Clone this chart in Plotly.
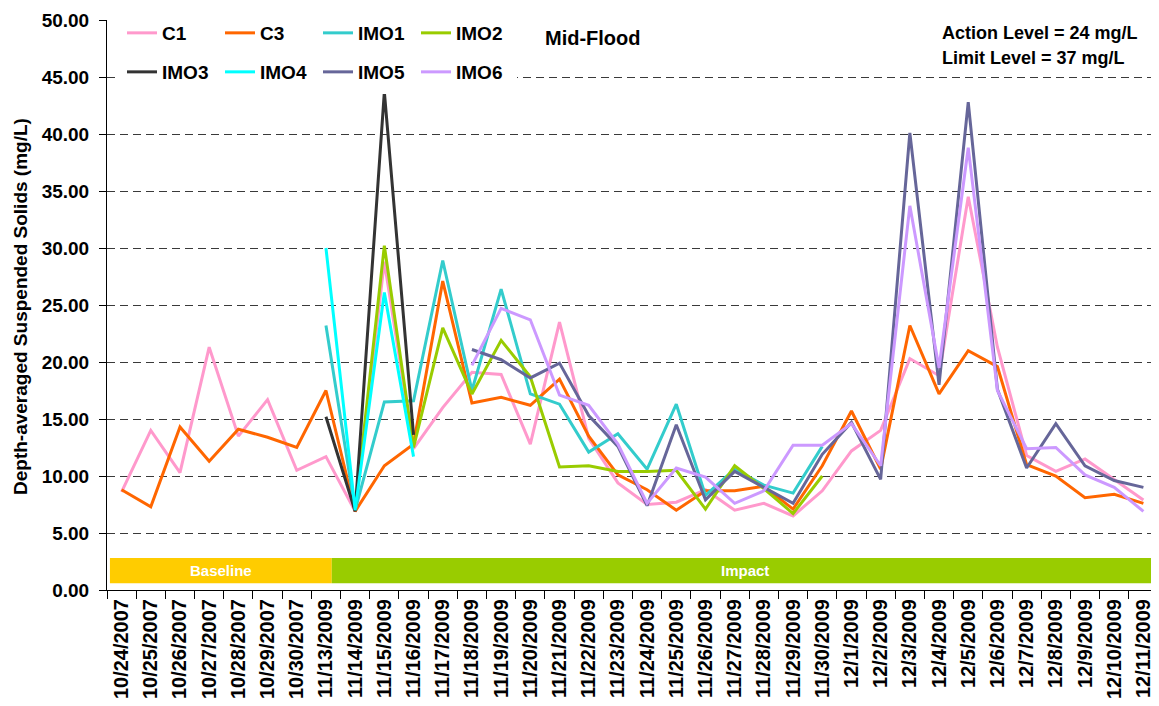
import plotly.graph_objects as go

dates = ["10/24/2007", "10/25/2007", "10/26/2007", "10/27/2007", "10/28/2007", "10/29/2007",
         "10/30/2007", "11/13/2009", "11/14/2009", "11/15/2009", "11/16/2009", "11/17/2009",
         "11/18/2009", "11/19/2009", "11/20/2009", "11/21/2009", "11/22/2009", "11/23/2009",
         "11/24/2009", "11/25/2009", "11/26/2009", "11/27/2009", "11/28/2009", "11/29/2009",
         "11/30/2009", "12/1/2009", "12/2/2009", "12/3/2009", "12/4/2009", "12/5/2009",
         "12/6/2009", "12/7/2009", "12/8/2009", "12/9/2009", "12/10/2009", "12/11/2009"]

N = None
c1 = [8.6, 14.0, 10.3, 21.3, 13.5, 16.7, 10.5, 11.7, 6.9, 28.8, 12.4, 16.0, 19.1, 18.9, 12.8,
      23.5, 13.3, 9.4, 7.5, 7.7, 8.8, 7.0, 7.6, 6.5, 8.7, 12.2, 14.0, 20.3, 18.8, 34.5, 21.3,
      11.8, 10.4, 11.5, 9.7, 7.9]
c3 = [8.8, 7.3, 14.3, 11.3, 14.1, 13.4, 12.5, 17.5, 6.9, 10.9, 12.8, 27.1, 16.4, 16.9, 16.2,
      18.5, 13.5, 10.1, 8.8, 7.0, 8.7, 8.7, 9.1, 7.1, 10.9, 15.7, 10.6, 23.2, 17.2, 21.0, 19.6,
      11.0, 10.0, 8.1, 8.4, 7.6]
imo1 = [N, N, N, N, N, N, N, 23.2, 7.0, 16.5, 16.6, 28.9, 17.5, 26.4, 17.2, 16.3, 12.1, 13.7,
        10.6, 16.3, 8.3, 10.6, 9.2, 8.5, 12.6, N, N, N, N, N, N, N, N, N, N, N]
imo2 = [N, N, N, N, N, N, N, N, 7.0, 30.2, 12.5, 23.0, 17.2, 21.9, 18.7, 10.8, 10.9, 10.4,
        10.4, 10.5, 7.1, 10.9, 8.9, 6.7, 10.0, N, N, N, N, N, N, N, N, N, N, N]
imo3 = [N, N, N, N, N, N, N, 15.2, 6.9, 43.7, 13.6, N, N, N, N, N, N, N, N, N, N, N, N, N,
        N, N, N, N, N, N, N, N, N, N, N, N]
imo4 = [N, N, N, N, N, N, N, 30.0, 7.0, 26.1, 11.7, N, N, N, N, N, N, N, N, N, N, N, N, N,
        N, N, N, N, N, N, N, N, N, N, N, N]
imo5 = [N, N, N, N, N, N, N, N, N, N, N, N, 21.1, 20.2, 18.6, 19.9, 15.3, 12.6, 7.4, 14.5,
        7.9, 10.4, 9.0, 7.6, 11.9, 14.7, 9.7, 40.1, 18.0, 42.8, 17.6, 10.7, 14.6, 10.9, 9.6, 9.0]
imo6 = [N, N, N, N, N, N, N, N, N, N, N, N, 19.7, 24.7, 23.7, 17.1, 16.2, 12.8, 7.6, 10.7,
        9.9, 7.6, 8.7, 12.7, 12.7, 14.6, 10.9, 33.7, 19.5, 38.8, 17.5, 12.4, 12.5, 10.1, 9.0, 6.9]

series_names = ["C1", "C3", "IMO1", "IMO2", "IMO3", "IMO4", "IMO5", "IMO6"]
series_values = [c1, c3, imo1, imo2, imo3, imo4, imo5, imo6]
series_colors = ["#FF99CC", "#FF6600", "#33CCCC", "#99CC00", "#333333", "#00FFFF", "#666699", "#CC99FF"]

phase_labels = ["Baseline", "Impact"]
phase_colors = ["#FFCC00", "#99CC00"]
phase_edges = [-0.4, 7.2, 35.5]
phase_band = [0.6, 2.8]

FONT = "Liberation Sans, Arial, sans-serif"

# page body has an 8px default margin; figure sized/offset to compensate
OFF = 8
W, H = 1159 - OFF, 706 - OFF
L, R, T, B = 107 - OFF, 1, 20 - OFF, 116
PW = W - L - R
PH = H - T - B


def px_x(x):  # reference pixel -> paper x
    return (x - 107) / PW


def px_y(y):  # reference pixel -> paper y
    return 1 - (y - 20) / PH


fig = go.Figure()
for i, (name, vals, col) in enumerate(zip(series_names, series_values, series_colors)):
    fig.add_trace(go.Scatter(
        x=dates, y=vals, name=name, mode="lines",
        line=dict(color=col, width=3),
        connectgaps=False,
        legend="legend" if i < 4 else "legend2",
    ))

shapes = []
annotations = []
for k, (lab, col) in enumerate(zip(phase_labels, phase_colors)):
    shapes.append(dict(type="rect", xref="x", yref="y",
                       x0=phase_edges[k], x1=phase_edges[k + 1],
                       y0=phase_band[0], y1=phase_band[1],
                       fillcolor=col, line=dict(width=0), layer="below"))
    annotations.append(dict(x=(phase_edges[k] + phase_edges[k + 1]) / 2, y=sum(phase_band) / 2,
                            xref="x", yref="y", text="<b>%s</b>" % lab, showarrow=False,
                            font=dict(family=FONT, size=15, color="white")))

annotations += [
    dict(x=px_x(543), y=px_y(38), xref="paper", yref="paper",
         xanchor="left", yanchor="middle", text="<b>Mid-Flood</b>", showarrow=False,
         font=dict(family=FONT, size=20, color="black")),
    dict(x=px_x(940), y=px_y(33), xref="paper", yref="paper",
         xanchor="left", yanchor="middle", text="<b>Action Level = 24 mg/L</b>", showarrow=False,
         font=dict(family=FONT, size=18, color="black")),
    dict(x=px_x(940), y=px_y(58), xref="paper", yref="paper",
         xanchor="left", yanchor="middle", text="<b>Limit Level = 37 mg/L</b>", showarrow=False,
         font=dict(family=FONT, size=18, color="black")),
    dict(x=px_x(20), y=px_y(307), xref="paper", yref="paper",
         xanchor="center", yanchor="middle", textangle=-90,
         text="<b>Depth-averaged Suspended Solids (mg/L)</b>", showarrow=False,
         font=dict(family=FONT, size=19, color="black")),
]

BW1, BW2 = 12, 3
legend_common = dict(orientation="h", bgcolor="white", bordercolor="white",
                     xanchor="left", yanchor="middle", entrywidthmode="pixels", entrywidth=53,
                     font=dict(family=FONT, size=19, color="black", weight="bold"),
                     traceorder="normal")

fig.update_layout(
    width=W, height=H,
    margin=dict(l=L, r=R, t=T, b=B, autoexpand=False),
    paper_bgcolor="white", plot_bgcolor="white",
    showlegend=True,
    legend=dict(x=px_x(127 - 5 - BW1), y=px_y(33), borderwidth=BW1, **legend_common),
    legend2=dict(x=px_x(127 - 5 - BW2), y=px_y(72), borderwidth=BW2, **legend_common),
    shapes=shapes, annotations=annotations,
    xaxis=dict(type="category", categoryorder="array", categoryarray=dates,
               range=[-0.5, 35.5], showline=True, linecolor="black", linewidth=1,
               ticks="outside", tickson="boundaries", ticklen=8, tickcolor="black",
               showgrid=False, tickangle=-90, automargin=False,
               tickfont=dict(family=FONT, size=20, color="black", weight="bold")),
    yaxis=dict(range=[0, 50], tickvals=[i * 5 for i in range(11)], tickformat=".2f",
               showline=True, linecolor="black", linewidth=1, ticks="outside", ticklen=7,
               tickcolor="black", showgrid=True, gridcolor="#3a3a3a", gridwidth=1,
               griddash="8px,5px", zeroline=False, automargin=False,
               ticklabelstandoff=6,
               tickfont=dict(family=FONT, size=19, color="black", weight="bold")),
)

fig.write_html("out.html")
